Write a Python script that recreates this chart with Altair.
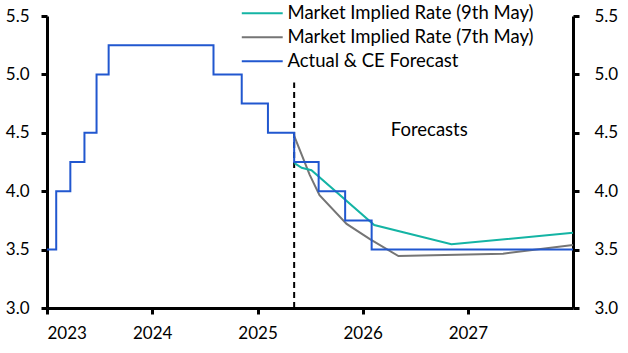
import altair as alt
import pandas as pd

series_names = ["Market Implied Rate (9th May)", "Market Implied Rate (7th May)", "Actual & CE Forecast"]
series_colors = ["#14b4a4", "#757575", "#2157cf"]

actual_dates = ["2023-01-01", "2023-02-02", "2023-03-23", "2023-05-11", "2023-06-22", "2023-08-03",
                "2024-08-01", "2024-11-07", "2025-02-06", "2025-05-08", "2025-08-01", "2025-11-01",
                "2026-02-01", "2028-01-01"]
actual_rates = [3.5, 4.0, 4.25, 4.5, 5.0, 5.25, 5.0, 4.75, 4.5, 4.25, 4.0, 3.75, 3.5, 3.5]

may9_dates = ["2025-05-09", "2025-06-03", "2025-07-07", "2026-02-10", "2026-11-05", "2028-01-01"]
may9_rates = [4.24, 4.20, 4.18, 3.71, 3.545, 3.645]

may7_dates = ["2025-05-07", "2025-07-01", "2025-08-04", "2025-11-06", "2026-01-26", "2026-05-05",
              "2027-05-03", "2028-01-01"]
may7_rates = [4.48, 4.14, 3.965, 3.72, 3.59, 3.445, 3.465, 3.54]

y_ticks = [3.0, 3.5, 4.0, 4.5, 5.0, 5.5]
x_tick_years = [2023, 2024, 2025, 2026, 2027]

forecast_start = "2025-05-08"
forecast_line_bottom = 3.0
forecast_line_top = 4.93
forecast_label = "Forecasts"
forecast_label_date = "2026-08-20"
forecast_label_value = 4.52

FONT = "Lato"


def frame(dates, rates, name):
    return pd.DataFrame({"date": [d + "T00:00:00" for d in dates], "rate": rates, "series": name})


actual_df = frame(actual_dates, actual_rates, series_names[2])
may9_df = frame(may9_dates, may9_rates, series_names[0])
may7_df = frame(may7_dates, may7_rates, series_names[1])

x_scale = alt.Scale(domain=[alt.DateTime(year=2023, month=1, date=1),
                            alt.DateTime(year=2028, month=1, date=1)], nice=False)
y_domain = [3.0, 5.5]

x_enc = alt.X("date:T", scale=x_scale, title=None,
              axis=alt.Axis(values=[alt.DateTime(year=y, month=1, date=1) for y in x_tick_years],
                            format="%Y", labelPadding=11))

color_enc = alt.Color("series:N",
                      scale=alt.Scale(domain=series_names, range=series_colors),
                      legend=alt.Legend(orient="none", legendX=206, legendY=-12, title=None,
                                        symbolType="M-5,0L5,0", symbolSize=67,
                                        symbolStrokeWidth=2, labelOffset=16, labelLimit=0,
                                        labelFont=FONT, labelFontSize=18.5, labelColor="black",
                                        rowPadding=5, padding=0))


def y_enc(axis):
    return alt.Y("rate:Q", scale=alt.Scale(domain=y_domain, nice=False, zero=False),
                 title=None, axis=axis)


left_axis = alt.Axis(values=y_ticks, format=".1f", orient="left", labelPadding=12)
right_axis = alt.Axis(values=y_ticks, format=".1f", orient="right", labelPadding=15)

may7_line = alt.Chart(may7_df).mark_line(strokeWidth=2).encode(
    x=x_enc, y=y_enc(left_axis), color=color_enc)
may9_line = alt.Chart(may9_df).mark_line(strokeWidth=2).encode(
    x=x_enc, y=y_enc(None), color=color_enc)
actual_line = alt.Chart(actual_df).mark_line(strokeWidth=2, interpolate="step-after").encode(
    x=x_enc, y=y_enc(None), color=color_enc)
right_layer = alt.Chart(actual_df).mark_line(opacity=0).encode(
    x=x_enc, y=y_enc(right_axis))

rule_df = pd.DataFrame({"date": [forecast_start + "T00:00:00"],
                        "y0": [forecast_line_bottom], "y1": [forecast_line_top]})
rule = alt.Chart(rule_df).mark_rule(color="black", strokeWidth=2, strokeDash=[6, 4]).encode(
    x=x_enc,
    y=alt.Y("y0:Q", scale=alt.Scale(domain=y_domain, nice=False, zero=False), axis=None),
    y2="y1:Q")

text_df = pd.DataFrame({"date": [forecast_label_date + "T00:00:00"],
                        "rate": [forecast_label_value], "label": [forecast_label]})
text = alt.Chart(text_df).mark_text(font=FONT, fontSize=18.5, color="black",
                                    align="center", baseline="middle").encode(
    x=x_enc, y=y_enc(None), text="label:N")

chart = alt.layer(rule, may7_line, may9_line, actual_line, text, right_layer).resolve_scale(
    y="independent"
).properties(
    width=526, height=292,
    autosize=alt.AutoSizeParams(type="none"),
    padding={"left": 47, "top": 16, "right": 55, "bottom": 45},
).configure_view(stroke=None).configure_axis(
    domainColor="black", domainWidth=3, tickColor="black", tickWidth=3, tickSize=6,
    labelFont=FONT, labelFontSize=17, labelColor="black", grid=False,
)

chart.save("out.html", embed_options={"renderer": "svg", "actions": False})
